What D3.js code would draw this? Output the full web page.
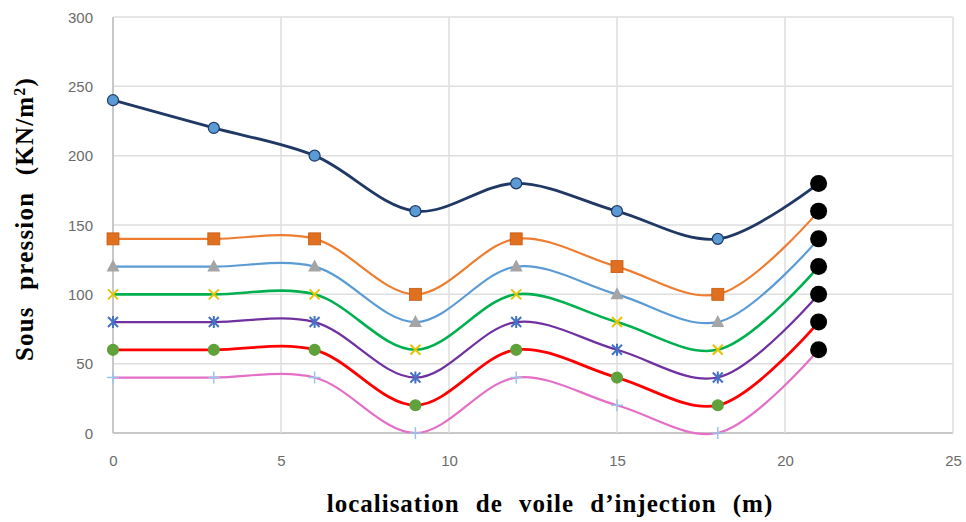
<!DOCTYPE html>
<html>
<head>
<meta charset="utf-8">
<script src="https://cdn.jsdelivr.net/npm/d3@7"></script>
<style>
  body { margin: 0; background: #fff; }
  svg { display: block; }
</style>
</head>
<body>
<svg id="chart" width="966" height="522"></svg>
<script>
// positions along the wall (m)
const xs = [0, 3, 6, 9, 12, 15, 18, 21];

// one array per curve, last value is the black end point
const s1 = [240, 220, 200, 160, 180, 160, 140, 180];
const s2 = [140, 140, 140, 100, 140, 120, 100, 160];
const s3 = [120, 120, 120, 80, 120, 100, 80, 140];
const s4 = [100, 100, 100, 60, 100, 80, 60, 120];
const s5 = [80, 80, 80, 40, 80, 60, 40, 100];
const s6 = [60, 60, 60, 20, 60, 40, 20, 80];
const s7 = [40, 40, 40, 0, 40, 20, 0, 60];

const xTicks = [0, 5, 10, 15, 20, 25];
const yTicks = [0, 50, 100, 150, 200, 250, 300];

const series = [
    { vals: s1, line: "#1f3864", width: 2.8, marker: "circle", fill: "#5b9bd5", stroke: "#1f3864" },
    { vals: s2, line: "#ed7d31", width: 2.2, marker: "square", fill: "#e0701f", stroke: "#c55a11" },
    { vals: s3, line: "#5b9bd5", width: 2.2, marker: "triangle", fill: "#a5a5a5", stroke: "#a5a5a5" },
    { vals: s4, line: "#00b050", width: 2.6, marker: "x", fill: "none", stroke: "#e6c300" },
    { vals: s5, line: "#7030a0", width: 2.2, marker: "star", fill: "none", stroke: "#4472c4" },
    { vals: s6, line: "#ff0000", width: 2.8, marker: "circle", fill: "#5fa13a", stroke: "#5fa13a" },
    { vals: s7, line: "#e36fc7", width: 2.2, marker: "plus", fill: "none", stroke: "#9dc3e6" },
];

const svg = d3.select("#chart");
const plotLeft = 113, plotRight = 953, plotTop = 17, plotBottom = 433;

const x = d3.scaleLinear().domain([0, 25]).range([plotLeft, plotRight]);
const y = d3.scaleLinear().domain([0, 300]).range([plotBottom, plotTop]);

// grid
svg.append("g")
    .selectAll("line")
    .data(yTicks)
    .enter()
    .append("line")
    .attr("x1", plotLeft).attr("x2", plotRight)
    .attr("y1", (d) => y(d)).attr("y2", (d) => y(d))
    .attr("stroke", (d) => (d === 0 ? "#c8c8c8" : "#dedede"))
    .attr("stroke-width", (d) => (d === 0 ? 2 : 1.5));

svg.append("g")
    .selectAll("line")
    .data(xTicks)
    .enter()
    .append("line")
    .attr("x1", (d) => x(d)).attr("x2", (d) => x(d))
    .attr("y1", plotTop).attr("y2", plotBottom)
    .attr("stroke", (d) => (d === 0 ? "#c8c8c8" : "#dedede"))
    .attr("stroke-width", (d) => (d === 0 ? 2 : 1.5));

// tick labels
const xAxis = d3.axisBottom(x).tickValues(xTicks).tickSize(0).tickPadding(0);
const yAxis = d3.axisLeft(y).tickValues(yTicks).tickSize(0).tickPadding(0);

const gx = svg.append("g").attr("transform", `translate(0, ${plotBottom + 22})`).call(xAxis);
const gy = svg.append("g").attr("transform", `translate(${plotLeft - 20}, 0)`).call(yAxis);
[gx, gy].forEach((g) => {
    g.select(".domain").remove();
    g.selectAll("text")
        .attr("fill", "#6b6b6b")
        .style("font-family", "'Liberation Sans', Arial, sans-serif")
        .style("font-size", "15px");
});
gy.selectAll("text").attr("dy", "0.35em");

// curves
const lineGen = d3.line()
    .x((d) => x(d[0]))
    .y((d) => y(d[1]))
    .curve(d3.curveCatmullRom.alpha(0.5));

series.forEach((s) => {
    const pts = xs.map((v, i) => [v, s.vals[i]]);
    svg.append("path")
        .attr("d", lineGen(pts))
        .attr("fill", "none")
        .attr("stroke", s.line)
        .attr("stroke-width", s.width);
});

// markers
function drawMarker(g, s, cx, cy) {
    if (s.marker === "circle") {
        g.append("circle").attr("cx", cx).attr("cy", cy).attr("r", 5.5)
            .attr("fill", s.fill).attr("stroke", s.stroke).attr("stroke-width", 1.2);
    } else if (s.marker === "square") {
        g.append("rect").attr("x", cx - 6).attr("y", cy - 6).attr("width", 12).attr("height", 12)
            .attr("fill", s.fill).attr("stroke", s.stroke).attr("stroke-width", 0.8);
    } else if (s.marker === "triangle") {
        g.append("path").attr("d", `M${cx},${cy - 7} L${cx + 6.5},${cy + 5} L${cx - 6.5},${cy + 5} Z`)
            .attr("fill", s.fill);
    } else if (s.marker === "x") {
        g.append("path").attr("d", `M${cx - 5},${cy - 5} L${cx + 5},${cy + 5} M${cx - 5},${cy + 5} L${cx + 5},${cy - 5}`)
            .attr("stroke", s.stroke).attr("stroke-width", 2);
    } else if (s.marker === "star") {
        g.append("path").attr("d", `M${cx - 5},${cy - 5} L${cx + 5},${cy + 5} M${cx - 5},${cy + 5} L${cx + 5},${cy - 5} M${cx},${cy - 6} L${cx},${cy + 6}`)
            .attr("stroke", s.stroke).attr("stroke-width", 2);
    } else if (s.marker === "plus") {
        g.append("path").attr("d", `M${cx - 6},${cy} L${cx + 6},${cy} M${cx},${cy - 6} L${cx},${cy + 6}`)
            .attr("stroke", s.stroke).attr("stroke-width", 1.5);
    }
}

const mg = svg.append("g");
series.forEach((s) => {
    xs.slice(0, 7).forEach((v, i) => drawMarker(mg, s, x(v), y(s.vals[i])));
});

// black end points
svg.append("g")
    .selectAll("circle")
    .data(series)
    .enter()
    .append("circle")
    .attr("cx", x(xs[7]))
    .attr("cy", (d) => y(d.vals[7]))
    .attr("r", 8.5)
    .attr("fill", "#000");

// axis titles
svg.append("text")
    .attr("x", 550)
    .attr("y", 512)
    .attr("text-anchor", "middle")
    .style("font-family", "'Liberation Serif', 'Times New Roman', serif")
    .style("font-weight", "bold")
    .style("font-size", "25px")
    .style("letter-spacing", "1px")
    .style("word-spacing", "9px")
    .text("localisation de voile d\u2019injection (m)");

const yt = svg.append("text")
    .attr("transform", "translate(33, 219) rotate(-90)")
    .attr("text-anchor", "middle")
    .style("font-family", "'Liberation Serif', 'Times New Roman', serif")
    .style("font-weight", "bold")
    .style("font-size", "25px")
    .style("letter-spacing", "1.2px")
    .style("word-spacing", "9px");
yt.append("tspan").text("Sous pression (KN/m");
yt.append("tspan").attr("baseline-shift", "super").style("font-size", "16px").text("2");
yt.append("tspan").text(")");
</script>
</body>
</html>
